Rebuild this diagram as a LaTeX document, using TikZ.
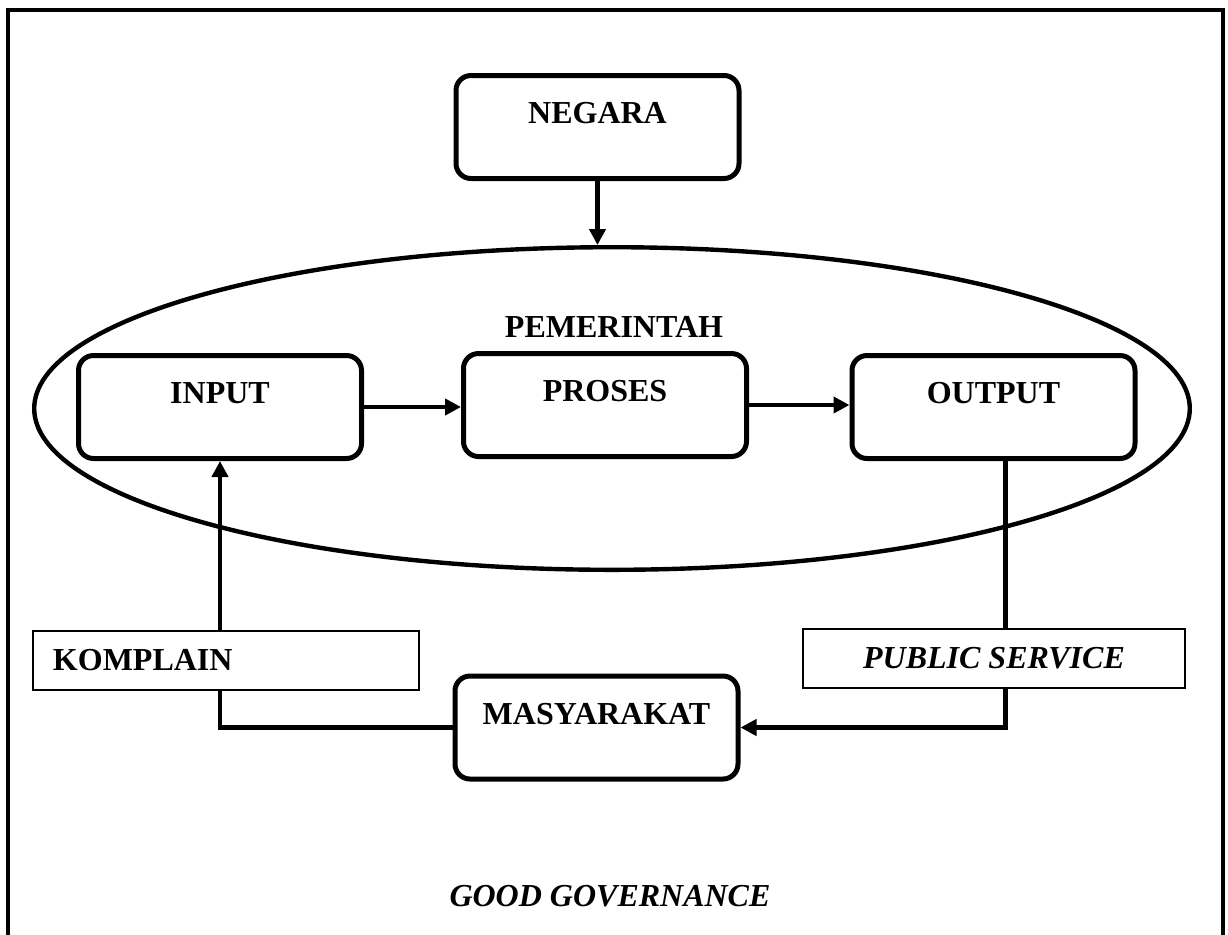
\documentclass[tikz,border=0pt]{standalone}
\usepackage{fontspec}
\setmainfont{Liberation Serif}
\usetikzlibrary{arrows.meta,shapes.geometric}

\newcommand\govfont{\fontsize{16pt}{19pt}\selectfont\bfseries}

\begin{document}
\begin{tikzpicture}[x=0.5pt, y=-0.5pt,
  box/.style={draw, line width=2.5pt, rounded corners=7.5pt, minimum width=141.5pt,
    inner xsep=0pt, inner ysep=0pt, text height=24pt, text depth=27.5pt, font=\govfont},
  tag/.style={draw, line width=1.2pt, fill=white, minimum height=29.3pt,
    inner ysep=0pt, font=\govfont},
  link/.style={line width=2.4pt},
  flow/.style={-{Triangle[length=8pt, width=8pt]}}]
\useasboundingbox (0,0) rectangle (1228,934);
\draw[line width=1.6pt] (8,960) -- (8,10) -- (1223,10) -- (1223,960);
% government ring
\node[draw, ellipse, line width=2.2pt, inner sep=0pt, minimum width=577.8pt,
  minimum height=161.3pt] (gov) at (612,408.5) {};
\node[font=\govfont] (pem) at (614,327) {PEMERINTAH};
\node[box] (negara) at (597.5,127) {NEGARA};
\node[box] (input) at (220,407) {INPUT};
\node[box] (proses) at (605,405) {PROSES};
\node[box] (output) at (993.5,407) {OUTPUT};
\node[box] (masy) at (596.5,727.5) {MASYARAKAT};
% connectors
\draw[link, flow] (negara.south) -- (negara.south |- gov.north);
\draw[link, flow] (input.east) -- (proses.west |- input.east);
\draw[link, flow] (proses.east) -- (output.west |- proses.east);
\draw[link, flow] (masy.west) -| (input.south);
\draw[link, flow] ([xshift=6]output.south) |- (masy.east);
% labels on the lines
\node[tag, text width=173pt, inner xsep=10pt, align=left] (komplain) at (226,660.5) {KOMPLAIN};
\node[tag, minimum width=191pt] (service) at (994,658.5) {\itshape PUBLIC SERVICE};
\node[font=\govfont\itshape] (good) at (610,896) {GOOD GOVERNANCE};
\end{tikzpicture}
\end{document}
